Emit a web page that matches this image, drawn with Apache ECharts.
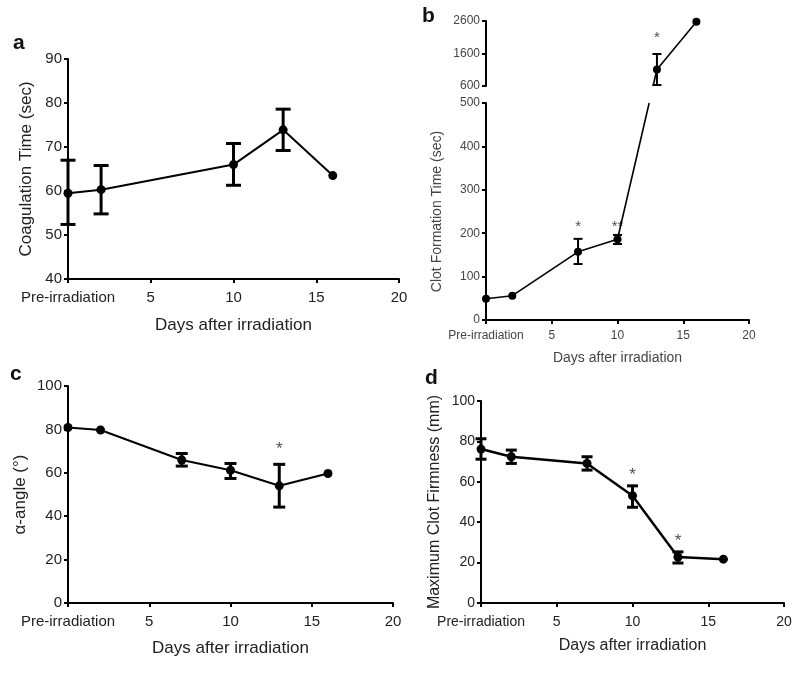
<!DOCTYPE html>
<html><head><meta charset="utf-8">
<script src="https://cdn.jsdelivr.net/npm/echarts@6/dist/echarts.min.js"></script>
<style>html,body{margin:0;padding:0;background:#fff}#c{width:800px;height:687px}</style>
</head><body><div id="c"></div>
<script>
// ---- data ----
const xTicksLabel0 = 'Pre-irradiation';
// panel a: Coagulation Time (sec)
const aDays = [0, 2, 10, 13, 16];
const aMean = [59.5, 60.3, 66, 73.9, 63.5];
const aLow  = [52.4, 54.8, 61.3, 69.2, null];
const aHigh = [67, 65.8, 70.8, 78.6, null];
// panel b: Clot Formation Time (sec)
const bDays = [0, 2, 7, 10, 13, 16];
const bMean = [49, 56, 157, 186, 1110, 2575];
const bLow  = [null, null, 129, 175, 630, null];
const bHigh = [null, null, 187, 196, 1585, null];
const bStars = [[7, 224, '*'], [10, 224, '**'], [13, 2200, '*']];
const bUpperTicks = [600, 1600, 2600];
// panel c: alpha-angle
const cDays = [0, 2, 7, 10, 13, 16];
const cMean = [80.9, 79.7, 65.9, 61.2, 54.0, 59.7];
const cLow  = [null, null, 63.1, 57.4, 44.2, null];
const cHigh = [null, null, 68.9, 64.3, 63.9, null];
const cStars = [[13, 72.8, '*']];
// panel d: Maximum Clot Firmness (mm)
const dDays = [0, 2, 7, 10, 13, 16];
const dMean = [76.2, 72.4, 69.1, 53.1, 22.8, 21.7];
const dLow  = [71.2, 69.1, 65.8, 47.4, 19.8, null];
const dHigh = [81.3, 75.7, 72.4, 58.0, 25.3, null];
const dStars = [[10, 65, '*'], [13, 32.4, '*']];

const pts = (xs, ys) => xs.map((x, i) => [x, ys[i]]);
const errs = (xs, lo, hi) => xs.map((x, i) => [x, lo[i], hi[i]]).filter(d => d[1] != null);

function errRender(capHalf, lw) {
  return function (params, api) {
    const x = api.value(0), lo = api.value(1), hi = api.value(2);
    const pl = api.coord([x, lo]), ph = api.coord([x, hi]);
    const st = { stroke: '#000', lineWidth: lw };
    return { type: 'group', children: [
      { type: 'line', shape: { x1: pl[0], y1: pl[1], x2: ph[0], y2: ph[1] }, style: st },
      { type: 'line', shape: { x1: pl[0] - capHalf, y1: pl[1], x2: pl[0] + capHalf, y2: pl[1] }, style: st },
      { type: 'line', shape: { x1: ph[0] - capHalf, y1: ph[1], x2: ph[0] + capHalf, y2: ph[1] }, style: st }
    ]};
  };
}
const FONT = 'Liberation Sans, Arial, sans-serif';

function xAxisCfg(gi, fs, nameFs, gap, margin, col, lw, show) {
  return {
    gridIndex: gi, type: 'value', min: 0, max: 20, interval: 5, show: show !== false,
    name: 'Days after irradiation', nameLocation: 'middle', nameGap: gap,
    nameTextStyle: { fontFamily: FONT, fontSize: nameFs, color: col },
    axisLine: { lineStyle: { color: '#000', width: lw } },
    axisTick: { length: 4, lineStyle: { color: '#000', width: lw } },
    axisLabel: { fontFamily: FONT, fontSize: fs, color: col, margin: margin,
      formatter: v => v === 0 ? xTicksLabel0 : String(v) },
    splitLine: { show: false }
  };
}
function yAxisCfg(gi, min, max, itv, name, fs, nameFs, gap, col, lw) {
  return {
    gridIndex: gi, type: 'value', min: min, max: max, interval: itv,
    name: name, nameLocation: 'middle', nameGap: gap,
    nameTextStyle: { fontFamily: FONT, fontSize: nameFs, color: col },
    axisLine: { show: true, lineStyle: { color: '#000', width: lw } },
    axisTick: { show: true, length: 4, lineStyle: { color: '#000', width: lw } },
    axisLabel: { fontFamily: FONT, fontSize: fs, color: col, margin: 6, formatter: v => String(v) },
    splitLine: { show: false }
  };
}
function lineSeries(xi, data, lw, sz) {
  return { type: 'line', xAxisIndex: xi, yAxisIndex: xi, data: data, symbol: 'circle', symbolSize: sz,
    lineStyle: { color: '#000', width: lw }, itemStyle: { color: '#000' }, animation: false, z: 3 };
}
function errSeries(xi, data, capHalf, lw) {
  return { type: 'custom', xAxisIndex: xi, yAxisIndex: xi, data: data, renderItem: errRender(capHalf, lw),
    encode: { x: 0, y: [1, 2] }, animation: false, z: 4 };
}
function starSeries(xi, data, fs) {
  return { type: 'scatter', xAxisIndex: xi, yAxisIndex: xi, data: data, symbolSize: 0, animation: false,
    label: { show: true, position: 'inside', formatter: p => p.data[2], fontFamily: FONT, fontSize: fs, color: '#222', offset: [0, 4] } };
}

const grids = [
  { left: 68, top: 59, width: 331, height: 220 },      // a
  { left: 486, top: 103, width: 263, height: 217 },    // b lower
  { left: 486, top: 21, width: 263, height: 65 },      // b upper
  { left: 68, top: 386, width: 325, height: 217 },     // c
  { left: 481, top: 401, width: 303, height: 202 }     // d
];

const upperY = yAxisCfg(2, bUpperTicks[0], bUpperTicks[2], null, '', 12, 14, 40, '#444', 2);
delete upperY.interval;
upperY.axisLabel.customValues = bUpperTicks;
upperY.axisTick.customValues = bUpperTicks;

const option = {
  animation: false,
  grid: grids,
  xAxis: [
    xAxisCfg(0, 15, 17, 38, 11, '#222', 2),
    xAxisCfg(1, 12, 14, 31, 10, '#444', 2),
    xAxisCfg(2, 12, 14, 31, 10, '#444', 2, false),
    xAxisCfg(3, 15, 17, 37, 11, '#222', 2),
    xAxisCfg(4, 14, 16, 35, 12, '#222', 2)
  ],
  yAxis: [
    yAxisCfg(0, 40, 90, 10, 'Coagulation Time (sec)', 15, 17, 33, '#222', 2),
    yAxisCfg(1, 0, 500, 100, 'Clot Formation Time (sec)', 12, 14, 42, '#444', 2),
    upperY,
    yAxisCfg(3, 0, 100, 20, 'α-angle (°)', 15, 17, 39, '#222', 2),
    yAxisCfg(4, 0, 100, 20, 'Maximum Clot Firmness (mm)', 14, 16, 38, '#222', 2)
  ],
  graphic: [
    { type: 'text', left: 13, top: 33, style: { text: 'a', font: 'bold 21px ' + FONT, fill: '#111' } },
    { type: 'text', left: 422, top: 6, style: { text: 'b', font: 'bold 21px ' + FONT, fill: '#111' } },
    { type: 'text', left: 10, top: 364, style: { text: 'c', font: 'bold 21px ' + FONT, fill: '#111' } },
    { type: 'text', left: 425, top: 368, style: { text: 'd', font: 'bold 21px ' + FONT, fill: '#111' } }
  ],
  series: [
    lineSeries(0, pts(aDays, aMean), 2, 9),
    errSeries(0, errs(aDays, aLow, aHigh), 7.5, 3),
    lineSeries(1, pts(bDays, bMean).slice(0, 4), 1.6, 8),
    errSeries(1, errs(bDays, bLow, bHigh).filter(d => d[2] <= 500), 4.5, 2),
    starSeries(1, bStars.filter(s => s[1] <= 500), 15),
    lineSeries(2, pts(bDays, bMean).slice(4), 1.6, 8),
    errSeries(2, errs(bDays, bLow, bHigh).filter(d => d[1] >= 600), 4.5, 2),
    starSeries(2, bStars.filter(s => s[1] >= 600), 15),
    lineSeries(3, pts(cDays, cMean), 2, 9),
    errSeries(3, errs(cDays, cLow, cHigh), 6, 3),
    starSeries(3, cStars, 17),
    lineSeries(4, pts(dDays, dMean), 2.5, 9),
    errSeries(4, errs(dDays, dLow, dHigh), 5.5, 3),
    starSeries(4, dStars, 17)
  ]
};

const chart = echarts.init(document.getElementById('c'), null, { renderer: 'canvas' });
chart.setOption(option);

// connect the broken-axis line (day 10 -> day 13) in screen space, clipped by the gap
const pA = chart.convertToPixel({ gridIndex: 1 }, [bDays[3], bMean[3]]);
const pB = chart.convertToPixel({ gridIndex: 2 }, [bDays[4], bMean[4]]);
const yLowTop = chart.convertToPixel({ gridIndex: 1 }, [0, 500])[1];
const yUpBot = chart.convertToPixel({ gridIndex: 2 }, [0, 600])[1];
const f1 = (pA[1] - yLowTop) / (pA[1] - pB[1]);
const f2 = (pA[1] - yUpBot) / (pA[1] - pB[1]);
const c1 = chart.convertFromPixel({ gridIndex: 1 }, [pA[0] + f1 * (pB[0] - pA[0]), yLowTop]);
const c2 = chart.convertFromPixel({ gridIndex: 2 }, [pA[0] + f2 * (pB[0] - pA[0]), yUpBot]);
const lowData = pts(bDays, bMean).slice(0, 4).concat([{ value: [c1[0], 500], symbol: 'none' }]);
const upData = [{ value: [c2[0], 600], symbol: 'none' }].concat(pts(bDays, bMean).slice(4));
option.series[2].data = lowData;
option.series[5].data = upData;
chart.setOption(option);
</script>
</body></html>
